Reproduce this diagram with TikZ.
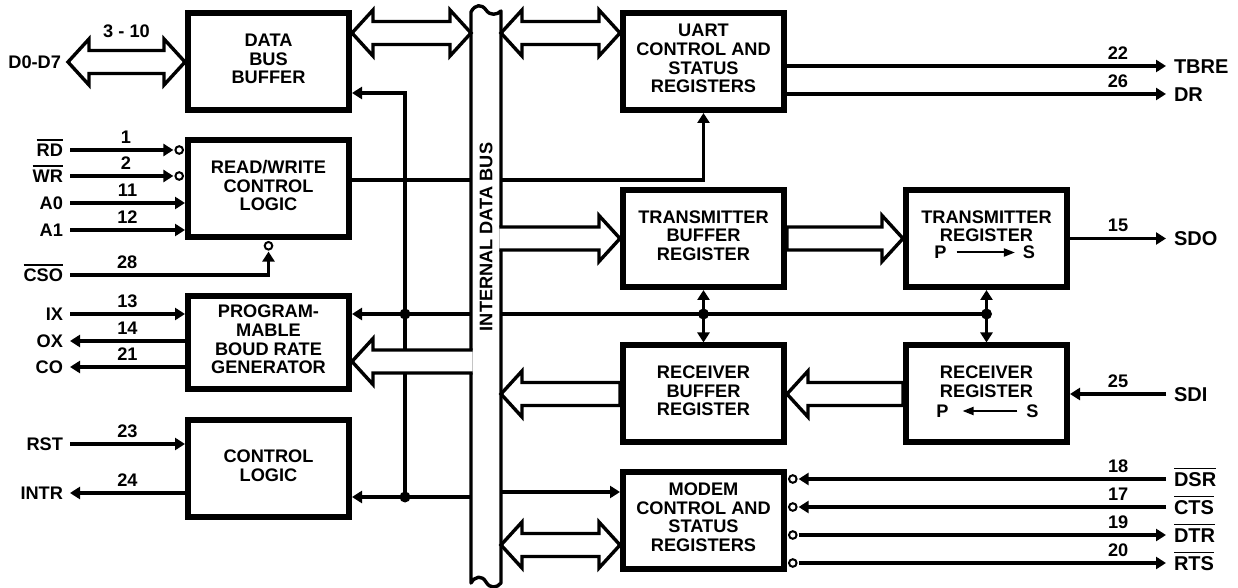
\documentclass[tikz,border=0pt]{standalone}
\usepackage{fontspec}
\setmainfont{Liberation Sans}
\usetikzlibrary{positioning,calc,arrows.meta}
\newcommand{\ovl}[1]{\vbox{\hrule height 0.75pt\kern 1.6pt\hbox{#1}}}
\tikzset{
	blockdiag/.style={>={Triangle[length=5pt,width=6pt]}, line width=1.7pt,
		x=0.5pt, y=-0.5pt, font=\fontsize{9.1}{9.3}\selectfont\bfseries},
	block/.style={draw, line width=3pt, minimum width=80.5pt, minimum height=48.5pt,
		inner sep=0pt, align=center, execute at end node={\rule[-3pt]{0pt}{3pt}}},
	pinl/.style={anchor=east, inner sep=0pt, outer sep=3.5pt, text height=6.5pt, text depth=0pt},
	pinr/.style={anchor=west, inner sep=0pt, outer sep=4pt, text height=7.2pt, text depth=0pt,
		font=\fontsize{10}{12}\selectfont\bfseries},
	num/.style={inner sep=0pt, outer sep=0pt, above=3.2pt},
	psl/.style={inner sep=0pt, outer sep=0pt, text height=6.5pt, text depth=0pt},
	dot/.style={circle, fill, inner sep=0pt, minimum size=5.5pt},
	bubble/.style={circle, draw, fill=white, line width=1pt, inner sep=0pt, outer sep=1pt, minimum size=3.8pt},
	serial/.style={line width=1pt, -{Triangle[length=5.5pt,width=4pt]}},
	fat/.style={draw, fill=white, line join=miter, to path={
		let \p1=(\tikztostart), \p2=(\tikztotarget), \n1={sign(\x2-\x1)} in
		(\x1,{\y2+5.75pt}) -- ({\x2-\n1*10.5pt},{\y2+5.75pt}) -- ({\x2-\n1*10.5pt},{\y2+11.5pt})
		-- (\x2,\y2) -- ({\x2-\n1*10.5pt},{\y2-11.5pt}) -- ({\x2-\n1*10.5pt},{\y2-5.75pt})
		-- (\x1,{\y2-5.75pt}) -- cycle}},
	fatopen/.style={draw, fill=white, line join=miter, to path={
		let \p1=(\tikztostart), \p2=(\tikztotarget), \n1={sign(\x2-\x1)} in
		(\x1,{\y2+5.75pt}) -- ({\x2-\n1*10.5pt},{\y2+5.75pt}) -- ({\x2-\n1*10.5pt},{\y2+11.5pt})
		-- (\x2,\y2) -- ({\x2-\n1*10.5pt},{\y2-11.5pt}) -- ({\x2-\n1*10.5pt},{\y2-5.75pt})
		-- (\x1,{\y2-5.75pt})}},
	fatboth/.style={draw, fill=white, line join=miter, to path={
		let \p1=(\tikztostart), \p2=(\tikztotarget), \n1={sign(\x2-\x1)} in
		(\x1,\y2) -- ({\x1+\n1*10.5pt},{\y2+11.5pt}) -- ({\x1+\n1*10.5pt},{\y2+5.75pt})
		-- ({\x2-\n1*10.5pt},{\y2+5.75pt}) -- ({\x2-\n1*10.5pt},{\y2+11.5pt}) -- (\x2,\y2)
		-- ({\x2-\n1*10.5pt},{\y2-11.5pt}) -- ({\x2-\n1*10.5pt},{\y2-5.75pt})
		-- ({\x1+\n1*10.5pt},{\y2-5.75pt}) -- ({\x1+\n1*10.5pt},{\y2-11.5pt}) -- cycle}}
}

\begin{document}
\begin{tikzpicture}[blockdiag]
	\useasboundingbox (0,0) rectangle (1238,588);
	
	% blocks
	\node[block] (dbb) at (268.5,62) {DATA\\BUS\\BUFFER};
	\node[block] (rw) at (268.5,188.5) {READ/WRITE\\CONTROL\\LOGIC};
	\node[block, minimum height=46.5pt] (pbrg) at (268.5,342.5) {PROGRAM-\\MABLE\\BOUD RATE\\GENERATOR};
	\node[block] (cl) at (268.5,468.5) {CONTROL\\LOGIC};
	\node[block] (ucsr) at (703.5,61.5) {UART\\CONTROL AND\\STATUS\\REGISTERS};
	\node[block] (tbr) at (703.5,238.5) {TRANSMITTER\\BUFFER\\REGISTER};
	\node[block] (rbr) at (703.5,394) {RECEIVER\\BUFFER\\REGISTER};
	\node[block] (mcsr) at (703.5,520) {MODEM\\CONTROL AND\\STATUS\\REGISTERS};
	\node[block] (tr) [right=58pt of tbr] {TRANSMITTER\\REGISTER\\\mbox{}};
	\node[block] (rr) [right=58pt of rbr] {RECEIVER\\REGISTER\\\mbox{}};
	
	\node[psl] (trp) at ($(tr.center)+(-46,14)$) {P};
	\node[psl] (trs) at ($(tr.center)+(42.5,14)$) {S};
	\node[psl] (rrp) at ($(rr.center)+(-44,17)$) {P};
	\node[psl] (rrs) at ($(rr.center)+(46,17)$) {S};
	\draw[serial] ([xshift=5pt]trp.east) -- ([xshift=-4pt]trs.west);
	\draw[serial] ([xshift=-4.5pt]rrs.west) -- ([xshift=7pt]rrp.east);
	
	% internal bus
	\coordinate (busL) at (471,297);
	\coordinate (busR) at (501,297);
	\coordinate (busLi) at (472.7,297);
	\coordinate (busRi) at (499.3,297);
	\draw[line join=round] (471,12) .. controls (475,4) and (482,4) .. (486,10)
		.. controls (490,16) and (497,15) .. (501,11) -- (501,583)
		.. controls (497,588) and (490,589) .. (486,582)
		.. controls (482,575) and (475,576) .. (471,583) -- cycle;
	\node[rotate=90] (buslbl) at (486,237) {INTERNAL DATA BUS};
	
	% pins
	\node[pinl] (d07) at (68,62) {D0-D7};
	\node[pinl] (rd) at (70,150) {\ovl{RD}};
	\node[pinl] (wr) at (70,176) {\ovl{WR}};
	\node[pinl] (a0) at (70,203) {A0};
	\node[pinl] (a1) at (70,230) {A1};
	\node[pinl] (cso) at (70,275) {\ovl{CSO}};
	\node[pinl] (ix) at (70,314) {IX};
	\node[pinl] (ox) at (70,341) {OX};
	\node[pinl] (co) at (70,367) {CO};
	\node[pinl] (rst) at (70,444) {RST};
	\node[pinl] (intr) at (70,493) {INTR};
	\node[pinr] (tbre) at (1166,66) {TBRE};
	\node[pinr] (dr) at (1166,94) {DR};
	\node[pinr] (sdo) at (1166,238.5) {SDO};
	\node[pinr] (sdi) at (1166,394) {SDI};
	\node[pinr] (dsr) at (1166,479) {\ovl{DSR}};
	\node[pinr] (cts) at (1166,507) {\ovl{CTS}};
	\node[pinr] (dtr) at (1166,535) {\ovl{DTR}};
	\node[pinr] (rts) at (1166,563) {\ovl{RTS}};
	
	\node[bubble, anchor=east] (rdb) at (rw.west |- rd) {};
	\node[bubble, anchor=east] (wrb) at (rw.west |- wr) {};
	\node[bubble, anchor=north] (csob) at (rw.south) {};
	\node[bubble, anchor=west] (dsrb) at (mcsr.east |- dsr) {};
	\node[bubble, anchor=west] (ctsb) at (mcsr.east |- cts) {};
	\node[bubble, anchor=west] (dtrb) at (mcsr.east |- dtr) {};
	\node[bubble, anchor=west] (rtsb) at (mcsr.east |- rts) {};
	
	\draw[->] (rd) -- node[num, pos=0.54] (n1) {1} (rdb);
	\draw[->] (wr) -- node[num, pos=0.54] (n2) {2} (wrb);
	\draw[->] (a0) -- node[num] (n11) {11} (rw.west |- a0);
	\draw[->] (a1) -- node[num] (n12) {12} (rw.west |- a1);
	\draw[->] (cso) -| node[num, pos=0.144] (n28) {28} (csob);
	\draw[->] (ix) -- node[num] (n13) {13} (pbrg.west |- ix);
	\draw[->] (pbrg.west |- ox) -- node[num] (n14) {14} (ox);
	\draw[->] (pbrg.west |- co) -- node[num] (n21) {21} (co);
	\draw[->] (rst) -- node[num] (n23) {23} (cl.west |- rst);
	\draw[->] (cl.west |- intr) -- node[num] (n24) {24} (intr);
	\draw[->] (ucsr.east |- tbre) -- node[num, pos=0.873] (n22) {22} (tbre);
	\draw[->] (ucsr.east |- dr) -- node[num, pos=0.873] (n26) {26} (dr);
	\draw[->] (tr.east |- sdo) -- node[num] (n15) {15} (sdo);
	\draw[->] (sdi) -- node[num] (n25) {25} (rr.east |- sdi);
	\draw[->] (dsr) -- node[num, pos=0.13] (n18) {18} (dsrb);
	\draw[->] (cts) -- node[num, pos=0.13] (n17) {17} (ctsb);
	\draw[->] (dtrb) -- node[num, pos=0.87] (n19) {19} (dtr);
	\draw[->] (rtsb) -- node[num, pos=0.87] (n20) {20} (rts);
	
	% bus taps
	\node[dot] (tapA) at (405,314) {};
	\node[dot] (tapB) at (405,497) {};
	\node[dot] (tapC) at (tbr.south |- tapA) {};
	\node[dot] (tapD) at (tr.south |- tapA) {};
	\coordinate (rwo) at ([yshift=4.25pt]rw.east);
	\coordinate (mdi) at ([yshift=14pt]mcsr.west);
	\draw (rwo) -- (busL |- rwo);
	\draw[->] (busR |- rwo) -| (ucsr.south);
	\draw[->] (tapB.center) -- (tapA.center) |- ([yshift=-15.5pt]dbb.east);
	\draw[->] (busL |- tapA) -- (pbrg.east |- tapA);
	\draw[->] (busL |- tapB) -- (cl.east |- tapB);
	\draw (busR |- tapC) -- (tapD.center);
	\draw[<->] (tbr.south) -- (rbr.north);
	\draw[<->] (tr.south) -- (rr.north);
	\draw[->] (busR |- mdi) -- (mdi);
	
	% data paths
	\draw[fatboth] (d07.east) to (dbb.west);
	\node[anchor=south, inner sep=0pt] (n310) at ($(d07.east)!.5!(dbb.west)+(0,-23)$) {3 - 10};
	\draw[fatboth] (busL) to ([yshift=14.5pt]dbb.east);
	\draw[fatboth] (busR) to ([yshift=14.25pt]ucsr.west);
	\draw[fatopen] (busRi) to (tbr.west);
	\draw[fat] (tbr.east) to (tr.west);
	\draw[fatopen] (busLi) to ([yshift=-9.5pt]pbrg.east);
	\draw[fat] (rbr.west) to (busR |- rbr.west);
	\draw[fat] (rr.west) to (rbr.east);
	\draw[fatboth] (busR) to ([yshift=-12.5pt]mcsr.west);
	
\end{tikzpicture}
\end{document}
